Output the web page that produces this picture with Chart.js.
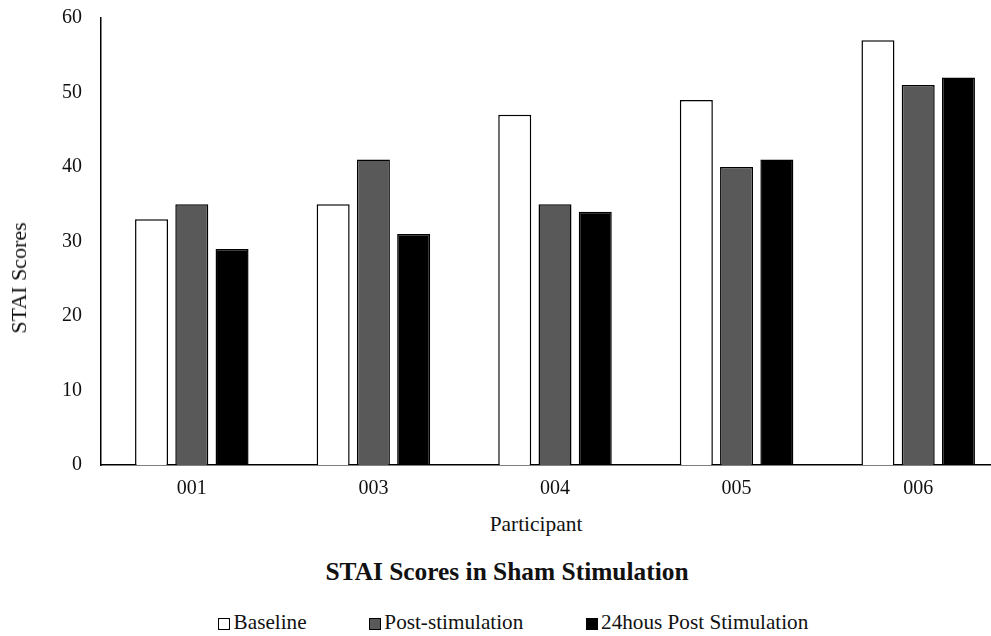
<!DOCTYPE html>
<html>
<head>
<meta charset="utf-8">
<script src="https://cdn.jsdelivr.net/npm/chart.js@4"></script>
<style>
  html, body { margin: 0; padding: 0; background: #fff; overflow: hidden; width: 991px; height: 636px; }
  #wrap { position: relative; width: 991px; height: 636px; overflow: hidden; }
  #chartBox { position: absolute; left: 0; top: 0; width: 1012px; height: 500px; }
  .txt { position: absolute; font-family: 'Liberation Serif', 'Times New Roman', serif; color: #111; line-height: 1; white-space: nowrap; }
  #ytitle { font-size: 22px; left: 18.6px; top: 278px; transform: translate(-50%, -50%) rotate(-90deg); }
  #xtitle { font-size: 21.4px; left: 536px; top: 514.1px; transform: translateX(-50%); }
  #title { font-size: 25.4px; font-weight: bold; left: 507px; top: 558.7px; transform: translateX(-50%); }
  #legend { position: absolute; left: 218.3px; top: 611.5px; display: flex; gap: 62.5px; font-family: 'Liberation Serif', 'Times New Roman', serif; font-size: 21.2px; line-height: 1; color: #111; white-space: nowrap; }
  .item { display: flex; align-items: center; gap: 3.3px; }
  .box { width: 10px; height: 10px; border: 1px solid #000; position: relative; top: 2px; }
</style>
</head>
<body>
<div id="wrap">
  <div id="chartBox"><canvas id="c"></canvas></div>
  <div class="txt" id="ytitle">STAI Scores</div>
  <div class="txt" id="xtitle">Participant</div>
  <div class="txt" id="title">STAI Scores in Sham Stimulation</div>
  <div id="legend"></div>
</div>
<script>
const categories = ['001', '003', '004', '005', '006'];
const seriesNames = ['Baseline', 'Post-stimulation', '24hous Post Stimulation'];
const baseline = [33, 35, 47, 49, 57];
const postStimulation = [35, 41, 35, 40, 51];
const post24h = [29, 31, 34, 41, 52];
const yTicks = [0, 10, 20, 30, 40, 50, 60];

const fills = ['#ffffff', '#595959', '#000000'];
const font = "'Liberation Serif', 'Times New Roman', serif";

const datasets = [baseline, postStimulation, post24h].map((vals, i) => ({
  label: seriesNames[i],
  data: vals,
  backgroundColor: fills[i],
  borderColor: '#000',
  borderWidth: 1.5,
  barPercentage: 0.82,
  categoryPercentage: 0.665
}));

const chart = new Chart(document.getElementById('c'), {
  type: 'bar',
  data: { labels: categories, datasets },
  options: {
    responsive: true,
    maintainAspectRatio: false,
    animation: false,
    layout: { padding: { top: 18, right: 3, left: 0, bottom: 0 } },
    plugins: { legend: { display: false }, title: { display: false }, tooltip: { enabled: false } },
    scales: {
      x: {
        grid: { display: false, drawTicks: false },
        border: { display: true, color: '#000', width: 1.5 },
        ticks: { font: { family: font, size: 20 }, color: '#111', padding: 12 },
        afterFit: s => { s.height = 35; }
      },
      y: {
        min: yTicks[0],
        max: yTicks[yTicks.length - 1],
        afterBuildTicks: s => { s.ticks = yTicks.map(v => ({ value: v })); },
        grid: { display: false, drawTicks: false },
        border: { display: true, color: '#000', width: 1.5 },
        ticks: { font: { family: font, size: 20 }, color: '#111', padding: 19 },
        afterFit: s => { s.width = 101; s.paddingTop = 0; s.paddingBottom = 0; }
      }
    }
  }
});

const legend = document.getElementById('legend');
chart.data.datasets.forEach(ds => {
  const item = document.createElement('div');
  item.className = 'item';
  const box = document.createElement('span');
  box.className = 'box';
  box.style.background = ds.backgroundColor;
  const t = document.createElement('span');
  t.textContent = ds.label;
  item.appendChild(box);
  item.appendChild(t);
  legend.appendChild(item);
});
</script>
</body>
</html>
